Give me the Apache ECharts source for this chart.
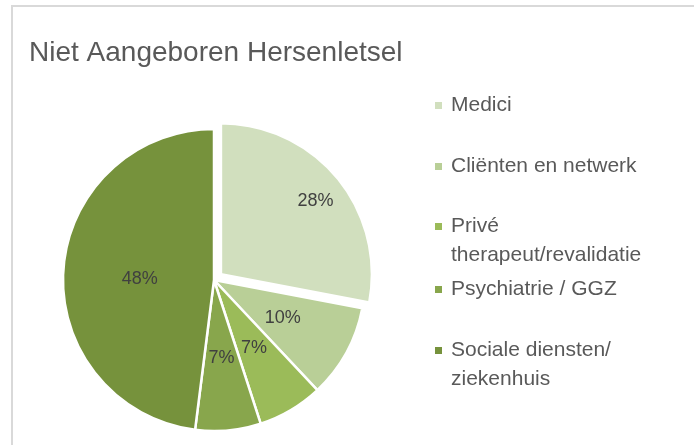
<!DOCTYPE html>
<html>
<head>
<meta charset="utf-8">
<script src="https://cdn.jsdelivr.net/npm/echarts@6/dist/echarts.min.js"></script>
<style>
  html, body { margin: 0; padding: 0; background: #fff; }
  #chart { width: 694px; height: 445px; }
</style>
</head>
<body>
<div id="chart"></div>
<script>
// data
const categories = ['Medici', 'Cliënten en netwerk', 'Privé\ntherapeut/revalidatie', 'Psychiatrie / GGZ', 'Sociale diensten/\nziekenhuis'];
const values = [28, 10, 7, 7, 48];
const colors = ['#d1dfbe', '#b9cf97', '#9bbb59', '#88a64c', '#76923c'];
const legendTops = [86, 147, 207, 270, 331];

// square icon; the two-line items get a tall box so the square sits on the first line
const squareIcon = 'path://M0,0h7v7h-7z';
const topSquareIcon = 'path://M0,0h7v7h-7z M0,36h0.01v0.01h-0.01z';

const chart = echarts.init(document.getElementById('chart'));

const legends = categories.map(function (name, i) {
  return {
    data: [{ name: name, icon: name.indexOf('\n') >= 0 ? topSquareIcon : squareIcon }],
    left: 430,
    top: legendTops[i],
    orient: 'vertical',
    itemWidth: 7,
    itemHeight: 36,
    selectedMode: false,
    itemStyle: { borderWidth: 0 },
    textStyle: {
      color: '#595959',
      fontFamily: 'Liberation Sans',
      fontSize: 21,
      lineHeight: 29,
      padding: [0, 0, 0, 4]
    }
  };
});

const pieData = categories.map(function (name, i) {
  return {
    name: name,
    value: values[i],
    selected: i === 0,
    itemStyle: { color: colors[i] },
    select: { itemStyle: { color: colors[i] } }
  };
});

chart.setOption({
  animation: false,
  title: {
    text: 'Niet Aangeboren Hersenletsel',
    left: 24,
    top: 34,
    textStyle: {
      color: '#595959',
      fontFamily: 'Liberation Sans',
      fontSize: 28,
      fontWeight: 'normal'
    }
  },
  legend: legends,
  graphic: [{
    type: 'rect',
    shape: { x: 12, y: 6, width: 720, height: 480 },
    style: { fill: 'none', stroke: '#d9d9d9', lineWidth: 2 },
    silent: true
  }],
  series: [{
    type: 'pie',
    center: [214, 280],
    radius: 151,
    startAngle: 90,
    clockwise: true,
    selectedMode: 'single',
    selectedOffset: 9,
    data: pieData,
    itemStyle: { borderColor: '#fff', borderWidth: 2.5 },
    label: {
      show: true,
      position: 'inside',
      formatter: '{d}%',
      color: '#404040',
      fontFamily: 'Liberation Sans',
      fontSize: 18
    },
    labelLayout: function (params) {
      // first label sits further out, near the rim
      if (params.dataIndex === 0) return { dx: 34, dy: -23 };
      if (params.dataIndex === 4) return { dx: 4, dy: 4 };
      return {};
    },
    emphasis: { disabled: true }
  }]
});
</script>
</body>
</html>
